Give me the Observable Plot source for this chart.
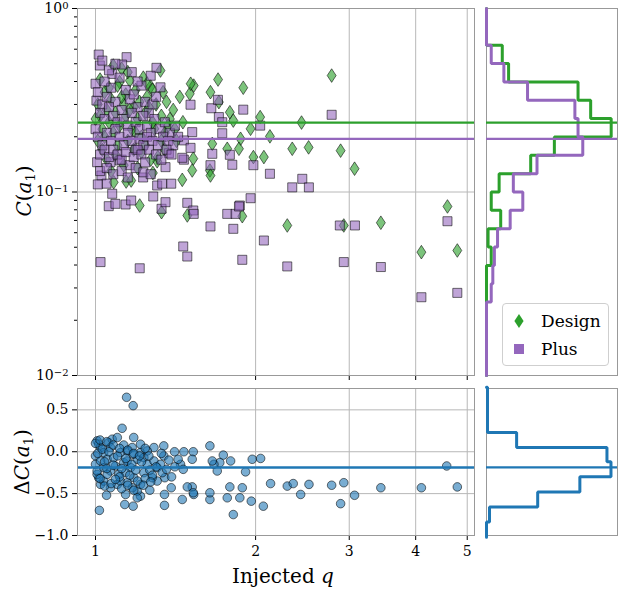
<!DOCTYPE html>
<html><head><meta charset="utf-8">
<script src="https://cdn.jsdelivr.net/npm/d3@7"></script>
<script src="https://cdn.jsdelivr.net/npm/@observablehq/plot@0.6"></script>
<style>
body{margin:0;background:#fff;}
#wrap{position:relative;width:618px;height:589px;font-family:"DejaVu Serif",serif;overflow:hidden}
.lbl{position:absolute;font-family:"DejaVu Serif",serif;color:#000;white-space:nowrap;font-size:20px;line-height:1}
.lbl i{font-style:italic}
.lbl sub{font-size:13px;vertical-align:-4px;line-height:0}
#legend{position:absolute;left:502px;top:303px;width:105px;height:61px;border:1px solid #cfcfcf;border-radius:4px;background:rgba(255,255,255,0.85);font-family:"DejaVu Serif",serif;font-size:17px}
#legend .row{position:absolute;left:0;height:24px;display:flex;align-items:center}
#legend svg{margin-left:9px;margin-right:15px}
</style></head>
<body><div id="wrap"></div>
<script>
// ---------------- data ----------------
const green = "#2ca02c", purple = "#9467bd", blue = "#1f77b4";

// Design: [injected q, C(a1)]
const designPoints = [
 [1.70,0.410],[1.53,0.380],[1.896,0.370],[1.645,0.350],[1.504,0.343],[1.706,0.309],[1.789,0.272],[1.816,0.245],
 [2.04,0.256],[1.957,0.221],[2.128,0.201],[1.874,0.195],[1.658,0.183],[2.344,0.172],[1.769,0.172],[1.861,0.172],
 [2.073,0.155],[1.981,0.155],[1.527,0.152],[1.641,0.131],[1.52,0.131],[2.78,0.431],[2.44,0.239],[2.516,0.175],
 [2.89,0.168],[3.07,0.134],[4.59,0.0834],[2.93,0.0657],[3.44,0.068],[4.10,0.047],[4.79,0.048],[1.211,0.0844],
 [1.331,0.0776],[1.488,0.0745],[1.888,0.0738],[2.294,0.0657],[1.645,0.123],[1.306,0.147],[1.282,0.127],
 [1.082,0.113],[1.142,0.114],[1.167,0.1155],[1.456,0.1165],
 [1.08,0.489],[1.12,0.47],[1.27,0.376],[1.325,0.459],[1.11,0.397],[1.16,0.405],[1.26,0.29],[1.29,0.221],[1.31,0.155],[1.51,0.389],
 [1.01,0.30],[1.02,0.26],[1.03,0.22],[1.01,0.19],[1.04,0.35],[1.02,0.41],[1.05,0.28],[1.06,0.24],[1.03,0.17],[1.07,0.32],
 [1.08,0.21],[1.09,0.27],[1.10,0.38],[1.11,0.23],[1.13,0.30],[1.14,0.26],[1.15,0.19],[1.14,0.34],[1.17,0.22],[1.18,0.29],
 [1.19,0.36],[1.20,0.25],[1.21,0.31],[1.22,0.20],[1.23,0.42],[1.24,0.27],[1.25,0.33],[1.28,0.24],[1.30,0.30],[1.33,0.26],
 [1.34,0.35],[1.35,0.21],[1.36,0.31],[1.38,0.25],[1.40,0.28],[1.42,0.19],[1.44,0.33],[1.46,0.24],[1.05,0.15],[1.09,0.16],
 [1.13,0.14],[1.18,0.17],[1.22,0.165],[1.27,0.15],[1.35,0.17],[1.00,0.25],[1.04,0.20],[1.06,0.37],[1.10,0.18],[1.15,0.45],
 [1.19,0.21],[1.24,0.18],[1.28,0.36],[1.33,0.19],[1.37,0.23],[1.41,0.22],[1.12,0.33],[1.16,0.28],[1.07,0.13],[1.20,0.135],[1.25,0.39]
];

// Plus: [injected q, C(a1)]
const plusPoints = [
 [1.509,0.299],[1.651,0.286],[1.699,0.318],[1.896,0.281],[1.706,0.256],[1.731,0.240],[2.04,0.230],[1.731,0.209],
 [1.52,0.212],[1.466,0.191],[1.509,0.174],[1.658,0.1615],[1.789,0.1595],[1.808,0.1407],[1.981,0.140],[1.645,0.140],
 [1.466,0.150],[2.128,0.1257],[2.78,0.2635],[2.448,0.118],[2.519,0.106],[2.344,0.106],[1.957,0.0925],[1.488,0.0873],
 [1.527,0.0793],[1.53,0.076],[1.769,0.076],[1.834,0.076],[1.868,0.0844],[1.645,0.0649],[1.816,0.063],[2.073,0.0544],
 [1.462,0.0505],[1.488,0.0445],[1.888,0.0427],[2.294,0.0393],[1.022,0.0415],[1.211,0.0384],[1.059,0.0837],[1.09,0.0862],
 [1.139,0.0855],[1.167,0.0899],[1.284,0.0945],[1.331,0.081],[1.354,0.088],[1.861,0.0834],[1.075,0.0978],[2.88,0.0657],
 [3.075,0.0657],[4.59,0.0693],[2.93,0.0415],[3.44,0.039],[4.10,0.0267],[4.79,0.0282],[1.026,0.123],[1.049,0.111],
 [1.229,0.120],[1.354,0.1366],[1.306,0.1085],[1.335,0.111],[1.388,0.111],[1.374,0.1627],[1.456,0.1536],[1.007,0.1453],
 [1.067,0.1453],[1.111,0.1485],
 [1.014,0.561],[1.019,0.489],[1.075,0.44],[1.144,0.543],[1.122,0.495],[1.302,0.475],[1.325,0.372],[1.004,0.315],[1.00,0.389],
 [1.03,0.52],[1.06,0.46],[1.09,0.50],[1.11,0.42],[1.01,0.35],[1.03,0.30],[1.05,0.33],[1.07,0.37],[1.09,0.31],[1.12,0.28],
 [1.14,0.36],[1.16,0.32],[1.18,0.34],[1.20,0.29],[1.22,0.38],[1.24,0.31],[1.26,0.27],[1.28,0.30],[1.30,0.33],[1.02,0.27],
 [1.04,0.25],[1.06,0.29],[1.08,0.26],[1.10,0.24],[1.13,0.25],[1.15,0.23],[1.17,0.27],[1.19,0.24],[1.21,0.22],[1.23,0.26],
 [1.25,0.23],[1.27,0.21],[1.29,0.25],[1.32,0.22],[1.35,0.24],[1.38,0.21],[1.41,0.23],[1.00,0.22],[1.01,0.20],[1.03,0.18],
 [1.05,0.21],[1.07,0.19],[1.09,0.22],[1.11,0.20],[1.13,0.18],[1.15,0.21],[1.17,0.19],[1.19,0.17],[1.21,0.195],[1.23,0.18],
 [1.25,0.20],[1.28,0.19],[1.31,0.18],[1.34,0.20],[1.37,0.19],[1.40,0.18],[1.43,0.20],[1.02,0.16],[1.04,0.17],[1.06,0.155],
 [1.08,0.17],[1.10,0.16],[1.12,0.15],[1.14,0.165],[1.16,0.14],[1.18,0.155],[1.20,0.17],[1.22,0.16],[1.24,0.145],[1.26,0.17],
 [1.30,0.16],[1.33,0.15],[1.36,0.17],[1.39,0.16],[1.02,0.13],[1.05,0.135],[1.08,0.125],[1.12,0.13],[1.15,0.12],[1.19,0.135],
 [1.23,0.128],[1.27,0.125],[1.01,0.11],[1.20,0.40],[1.17,0.45],[1.27,0.43],[1.04,0.40]
];

// Residuals: [injected q, ΔC(a1)]
const deltaPoints = [
 [1.144,0.65],[1.177,0.55],[1.122,0.28],[1.18,0.17],[1.641,0.07],[1.017,-0.70],[1.177,-0.65],[1.135,-0.63],[1.348,-0.64],
 [1.816,-0.75],[2.068,-0.65],[1.963,-0.59],[1.641,-0.57],[1.456,-0.57],[1.769,-0.55],[1.868,-0.55],[1.049,-0.52],[1.139,-0.51],
 [1.215,-0.53],[1.265,-0.46],[1.388,-0.43],[1.52,-0.42],[1.789,-0.42],[1.888,-0.43],[1.641,-0.49],[1.53,-0.51],[1.488,-0.42],
 [1.527,-0.49],[2.134,-0.38],[2.294,-0.41],[2.354,-0.38],[2.431,-0.51],[2.52,-0.39],[1.915,-0.24],[1.795,-0.11],[1.739,-0.04],
 [1.713,-0.13],[1.67,-0.15],[1.658,-0.11],[1.694,-0.23],[1.971,-0.09],[2.044,-0.08],[1.466,0.00],[1.527,0.00],[1.408,0.00],
 [1.52,-0.09],[1.445,-0.15],[1.462,-0.21],[1.344,0.07],[1.288,0.05],[1.344,-0.05],[1.374,-0.10],[1.35,-0.31],[1.306,-0.35],
 [1.278,-0.31],[1.348,-0.51],[1.198,-0.47],[1.172,-0.43],[1.198,-0.55],[1.215,-0.39],[1.18,-0.31],[1.022,-0.39],[1.036,-0.35],
 [1.014,-0.31],[1.007,-0.27],[1.067,-0.43],[1.099,-0.39],[1.114,-0.35],[1.147,-0.37],
 [1.007,0.13],[1.014,0.09],[1.022,0.05],[1.059,0.11],[1.075,0.15],[1.067,0.05],[1.099,0.17],[1.036,-0.01],[1.00,-0.05],
 [1.00,-0.15],[1.007,-0.23],[1.052,-0.09],[1.082,-0.07],[1.114,-0.01],[1.147,0.01],[1.09,-0.17],[1.13,-0.13],[1.164,-0.19],
 [1.198,-0.09],[1.215,-0.01],[1.172,0.05],[1.215,0.09],[1.233,-0.07],[1.251,-0.15],[1.036,-0.19],[1.067,-0.23],[1.106,-0.27],
 [1.139,-0.25],[1.147,-0.11],[1.177,-0.03],[1.022,-0.11],[1.052,-0.27],[1.251,0.01],[1.288,-0.11],[1.306,-0.19],[1.325,-0.15],
 [1.335,-0.25],[1.233,-0.25],[1.265,-0.22],
 [2.78,-0.40],[2.93,-0.37],[2.89,-0.62],[3.07,-0.52],[3.44,-0.43],[4.10,-0.43],[4.575,-0.17],[4.79,-0.42],
 [1.01,-0.02],[1.03,0.03],[1.04,-0.12],[1.05,-0.20],[1.06,0.0],[1.08,-0.16],[1.10,-0.05],[1.11,-0.30],[1.12,-0.20],[1.13,0.08],
 [1.14,-0.08],[1.16,-0.28],[1.17,-0.15],[1.19,-0.22],[1.20,-0.35],[1.22,-0.12],[1.24,-0.32],[1.26,-0.05],[1.28,-0.28],[1.30,-0.18],
 [1.02,-0.32],[1.04,-0.41],[1.07,-0.38],[1.09,-0.33],[1.12,-0.44],[1.15,-0.40],[1.18,-0.46],[1.23,-0.40],[1.27,-0.36],[1.00,0.10],
 [1.02,0.14],[1.05,0.12],[1.08,0.08],[1.11,0.04],[1.15,0.02],[1.18,-0.02],[1.21,-0.05],[1.24,0.04],[1.33,-0.02],[1.36,-0.21],
 [1.39,-0.30],[1.41,-0.18],[1.43,-0.09]
];

const designMedian = 0.239, plusMedian = 0.195, deltaMedian = -0.187;

// marginal histograms (log10 C bin edges, counts)
const logEdges = [-2.0,-1.9,-1.8,-1.7,-1.6,-1.5,-1.4,-1.3,-1.2,-1.1,-1.0,-0.9,-0.8,-0.7,-0.6,-0.5,-0.4,-0.3,-0.2,-0.1,0.0];
const designCounts = [0,0,0,0,0,0,3,1,9,3,8,28,43,79,66,58,14,10,0,0];
const plusCounts   = [0,0,0,0,3,4,5,7,15,23,17,32,61,58,56,26,11,3,0,0];
const deltaEdges  = [-1.02,-0.84,-0.66,-0.48,-0.30,-0.12,0.05,0.23,0.41,0.59,0.77];
const deltaCounts = [0,3,51,93,124,120,30,1,1,1];

const qTicks = [1,2,3,4,5];
const cTicks = [1,0.1,0.01];
const cMinor = [0.02,0.03,0.04,0.05,0.06,0.07,0.08,0.09,0.2,0.3,0.4,0.5,0.6,0.7,0.8,0.9];
const dTicks = [0.5,0,-0.5,-1.0];

// ---------------- helpers ----------------
function steps(edges, counts, f = v => v) {
  const pts = [{n: 0, e: f(edges[0])}];
  counts.forEach((c, i) => { pts.push({n: c, e: f(edges[i])}, {n: c, e: f(edges[i + 1])}); });
  pts.push({n: 0, e: f(edges[edges.length - 1])});
  return pts;
}
const thinDiamond = {
  draw(ctx, size) {
    const r = Math.sqrt(size / Math.PI);
    const h = r * 1.45, w = r * 0.95;
    ctx.moveTo(0, -h); ctx.lineTo(w, 0); ctx.lineTo(0, h); ctx.lineTo(-w, 0); ctx.closePath();
  }
};
const gridStyle = {stroke: "#b8b8b8", strokeOpacity: 1, strokeWidth: 1};
const frameStyle = {stroke: "#999", strokeWidth: 1};
const baseStyle = {fontFamily: "DejaVu Serif", fontSize: "14px", color: "#000", background: "transparent", overflow: "visible"};
const xDom = [0.925, 5.16];

const wrap = document.getElementById("wrap");
function place(svg, left, top) {
  svg.style.position = "absolute"; svg.style.left = left + "px"; svg.style.top = top + "px";
  wrap.appendChild(svg);
}

// ---------------- main scatter ----------------
const main = Plot.plot({
  width: 480, height: 382, marginLeft: 77, marginRight: 6, marginTop: 8, marginBottom: 7,
  style: baseStyle,
  x: {type: "log", domain: xDom},
  y: {type: "log", domain: [0.01, 1]},
  marks: [
    Plot.gridX(qTicks, gridStyle),
    Plot.gridY([0.01, 0.1, 1], gridStyle),
    Plot.dot(designPoints, {x: d => d[0], y: d => d[1], symbol: thinDiamond, r: 4.7,
      fill: green, fillOpacity: 0.62, stroke: "#000", strokeOpacity: 0.55, strokeWidth: 1}),
    Plot.dot(plusPoints, {x: d => d[0], y: d => d[1], symbol: "square", r: 5.1,
      fill: purple, fillOpacity: 0.6, stroke: "#000", strokeOpacity: 0.55, strokeWidth: 1}),
    Plot.ruleY([designMedian], {stroke: green, strokeWidth: 2.2}),
    Plot.ruleY([plusMedian], {stroke: purple, strokeWidth: 2.2}),
    Plot.axisX({ticks: qTicks, tickFormat: () => "", tickSize: 5, label: null}),
    Plot.axisY({ticks: cMinor, tickFormat: () => "", tickSize: 3, label: null}),
    Plot.axisY({ticks: cTicks, tickSize: 5, tickPadding: 4, label: null, fontSize: 14,
      tickFormat: d => "10^" + String(Math.round(Math.log10(d))).replace("-", "\u2212")}),
    Plot.frame(frameStyle)
  ]
});
d3.select(main).selectAll('g[aria-label="y-axis tick label"] text').each(function () {
  const t = this.textContent;
  if (!t.includes("^")) return;
  const [b, e] = t.split("^");
  const s = d3.select(this); s.text(b);
  s.append("tspan").attr("dy", "-0.42em").attr("font-size", "10px").text(e);
});
place(main, 0, 0);

// ---------------- right marginal histogram ----------------
const histTop = Plot.plot({
  width: 138, height: 382, marginLeft: 6, marginRight: 1, marginTop: 8, marginBottom: 7,
  style: baseStyle,
  x: {domain: [0, 83], axis: null},
  y: {type: "log", domain: [0.01, 1], axis: null},
  marks: [
    Plot.frame(frameStyle),
    Plot.line(steps(logEdges, designCounts, v => Math.pow(10, v)), {x: "n", y: "e", stroke: green, strokeWidth: 3, strokeLinejoin: "miter"}),
    Plot.line(steps(logEdges, plusCounts, v => Math.pow(10, v)), {x: "n", y: "e", stroke: purple, strokeWidth: 3, strokeLinejoin: "miter"}),
    Plot.ruleY([designMedian], {stroke: green, strokeWidth: 2.2}),
    Plot.ruleY([plusMedian], {stroke: purple, strokeWidth: 2.2})
  ]
});
place(histTop, 480, 0);

// ---------------- residual scatter ----------------
const bottom = Plot.plot({
  width: 480, height: 207, marginLeft: 77, marginRight: 6, marginTop: 6, marginBottom: 54,
  style: baseStyle,
  x: {type: "log", domain: xDom},
  y: {domain: [-1, 0.755]},
  marks: [
    Plot.gridX(qTicks, gridStyle),
    Plot.gridY(dTicks, gridStyle),
    Plot.dot(deltaPoints, {x: d => d[0], y: d => d[1], r: 4.3,
      fill: blue, fillOpacity: 0.6, stroke: "#000", strokeOpacity: 0.55, strokeWidth: 1}),
    Plot.ruleY([deltaMedian], {stroke: blue, strokeWidth: 2.5}),
    Plot.axisX({ticks: qTicks, tickFormat: d => String(d), tickSize: 5, tickPadding: 6, label: null, fontSize: 14}),
    Plot.axisY({ticks: dTicks, tickFormat: d3.format(".1f"), tickSize: 5, tickPadding: 4, label: null, fontSize: 14}),
    Plot.frame(frameStyle)
  ]
});
place(bottom, 0, 382);

// ---------------- bottom-right histogram ----------------
const histBot = Plot.plot({
  width: 138, height: 207, marginLeft: 6, marginRight: 1, marginTop: 6, marginBottom: 54,
  style: baseStyle,
  x: {domain: [0, 130.5], axis: null},
  y: {domain: [-1, 0.755], axis: null},
  marks: [
    Plot.frame(frameStyle),
    Plot.line(steps(deltaEdges, deltaCounts), {x: "n", y: "e", stroke: blue, strokeWidth: 3, strokeLinejoin: "miter"}),
    Plot.ruleY([deltaMedian], {stroke: blue, strokeWidth: 2.2})
  ]
});
place(histBot, 480, 382);

// ---------------- labels & legend ----------------
function label(html, cx, cy, rotate) {
  const d = document.createElement("div");
  d.className = "lbl"; d.innerHTML = html;
  wrap.appendChild(d);
  const w = d.offsetWidth, h = d.offsetHeight;
  d.style.left = (cx - w / 2) + "px"; d.style.top = (cy - h / 2) + "px";
  if (rotate) d.style.transform = "rotate(-90deg)";
}
label('<i>C</i>(<i>a</i><sub>1</sub>)', 23, 191, true);
label('\u0394<i>C</i>(<i>a</i><sub>1</sub>)', 22, 462, true);
label('Injected <i>q</i>', 283, 576, false);

const lg = document.createElement("div");
lg.id = "legend";
lg.innerHTML =
  '<div class="row" style="top:5px"><svg width="14" height="18" viewBox="-7 -9 14 18"><path d="M0,-7L4.6,0L0,7L-4.6,0Z" fill="' + green + '"/></svg>Design</div>' +
  '<div class="row" style="top:33px"><svg width="14" height="18" viewBox="-7 -9 14 18"><rect x="-5" y="-5" width="10" height="10" fill="' + purple + '"/></svg>Plus</div>';
wrap.appendChild(lg);
</script>
</body></html>
